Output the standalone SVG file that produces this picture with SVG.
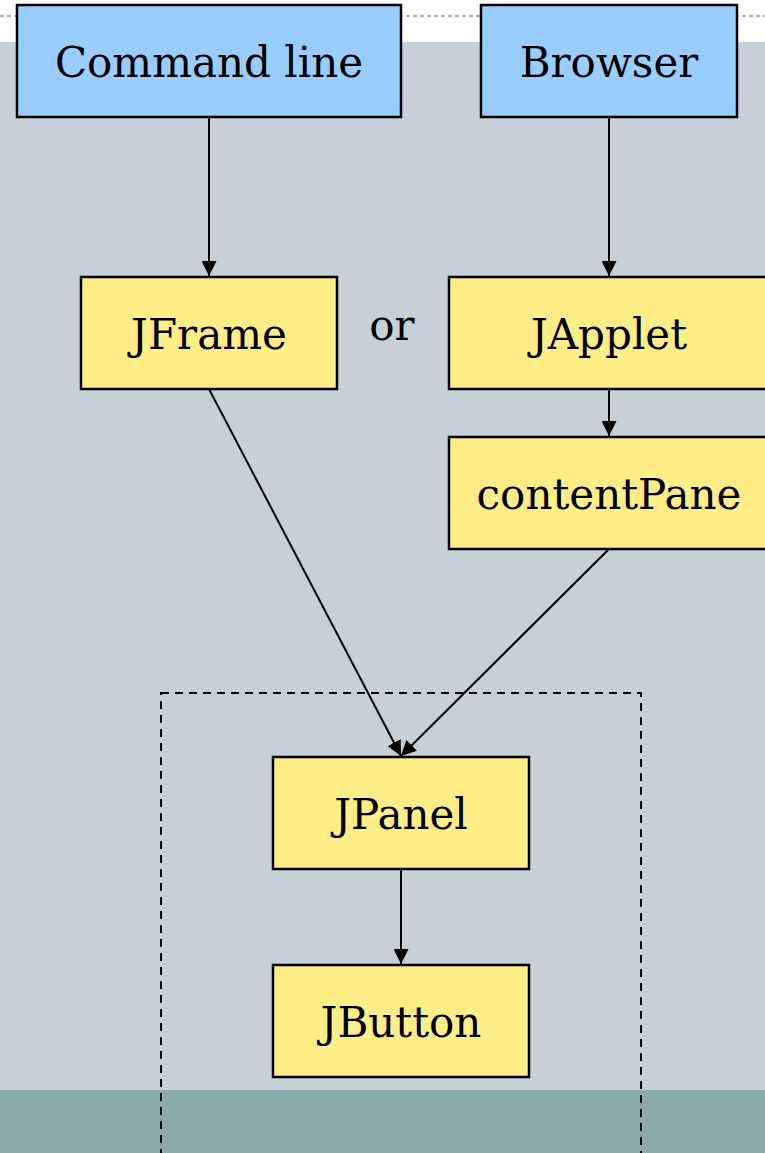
<svg xmlns="http://www.w3.org/2000/svg" width="765" height="1153" viewBox="0 0 765 1153">
<style>
.blue{fill:#99CCFF;stroke:#000;stroke-width:2.5}
.yel{fill:#FFEE88;stroke:#000;stroke-width:2.5}
.t{font-family:"DejaVu Serif","Liberation Serif",serif;font-size:42px;fill:#000;text-anchor:middle;dominant-baseline:central}
.c{stroke:#000;stroke-width:2;fill:none;marker-end:url(#ah)}
</style>
<defs>
<marker id="ah" viewBox="0 0 15 15" refX="15" refY="7.5" markerWidth="15" markerHeight="15" markerUnits="userSpaceOnUse" orient="auto">
<path d="M0,0 L15,7.5 L0,15 z" fill="#000"/>
</marker>
</defs>
<rect x="0" y="0" width="765" height="1153" fill="#FFFFFF"/>
<rect x="0" y="42" width="765" height="1048" fill="#C5D0D7"/>
<rect x="0" y="1090" width="765" height="63" fill="#8BACAD"/>
<line x1="0" y1="16" x2="765" y2="16" stroke="#7F9A9C" stroke-width="1.5" stroke-dasharray="4,3"/>
<rect x="161" y="693" width="480" height="480" fill="none" stroke="#000" stroke-width="2" stroke-dasharray="8,6"/>
<g id="connectors">
<line class="c" x1="209" y1="117" x2="209" y2="276"/>
<line class="c" x1="609" y1="117" x2="609" y2="276"/>
<line class="c" x1="609" y1="389" x2="609" y2="436"/>
<line class="c" x1="209" y1="389" x2="401" y2="756"/>
<line class="c" x1="609" y1="549" x2="401" y2="756"/>
<line class="c" x1="401" y1="869" x2="401" y2="964"/>
</g>
<g id="cmd"><rect class="blue" x="17" y="5" width="384" height="112"/><text class="t" x="209" y="62">Command line</text></g>
<g id="browser"><rect class="blue" x="481" y="5" width="256" height="112"/><text class="t" x="609" y="62">Browser</text></g>
<g id="jframe"><rect class="yel" x="81" y="277" width="256" height="112"/><text class="t" x="209" y="334">JFrame</text></g>
<g id="or"><text class="t" x="392" y="325">or</text></g>
<g id="japplet"><rect class="yel" x="449" y="277" width="320" height="112"/><text class="t" x="609" y="334">JApplet</text></g>
<g id="contentpane"><rect class="yel" x="449" y="437" width="320" height="112"/><text class="t" x="609" y="494">contentPane</text></g>
<g id="jpanel"><rect class="yel" x="273" y="757" width="256" height="112"/><text class="t" x="401" y="814">JPanel</text></g>
<g id="jbutton"><rect class="yel" x="273" y="965" width="256" height="112"/><text class="t" x="401" y="1022">JButton</text></g>
</svg>
